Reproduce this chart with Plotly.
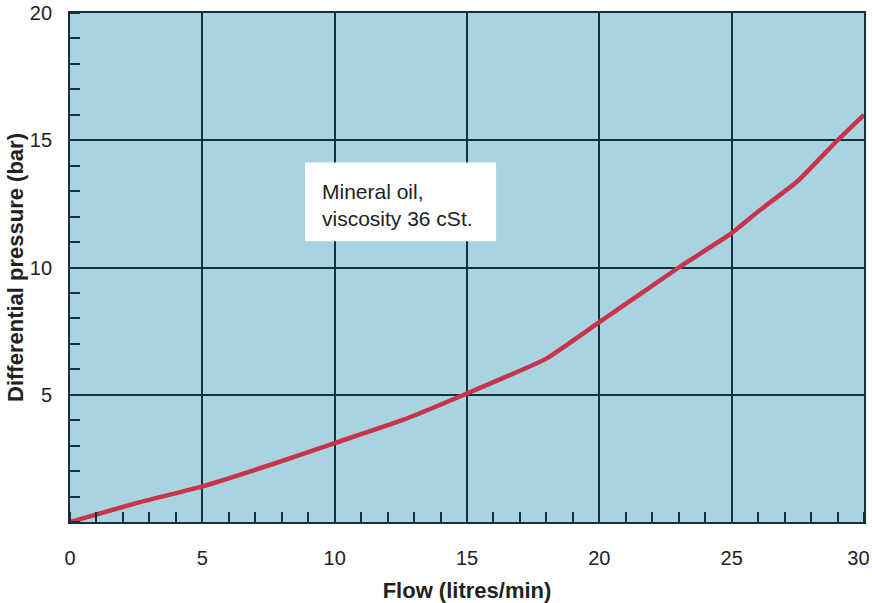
import plotly.graph_objects as go

flow = [0, 2.5, 5, 7.5, 10, 12.5, 15, 18, 20, 23, 25, 26, 27.5, 29, 30]
pressure = [0, 0.74, 1.4, 2.22, 3.1, 3.98, 5.05, 6.42, 7.85, 10.0, 11.35, 12.2, 13.4, 15.0, 16.0]
x_ticks = [0, 5, 10, 15, 20, 25, 30]
x_tick_text = ["0", "5", "10", "15", "20", "25", "30\u00a0\u00a0"]
y_ticks = [5, 10, 15, 20]
note_text = "Mineral oil,<br>viscosity 36 cSt."

grid_col = "#17303d"
font_fam = "Liberation Sans, Arial, sans-serif"

fig = go.Figure()
fig.add_trace(go.Scatter(x=flow, y=pressure, mode="lines",
                         line=dict(color="#c7344b", width=4.5, shape="spline", smoothing=0.4),
                         showlegend=False, hoverinfo="skip"))

fig.add_shape(type="rect", xref="x", yref="y", x0=8.88, x1=16.1, y0=11.03, y1=14.13,
              fillcolor="white", line=dict(width=0), layer="above")
fig.add_annotation(xref="x", yref="y", x=9.45, y=12.45, text=note_text, showarrow=False,
                   xanchor="left", yanchor="middle", align="left",
                   font=dict(family=font_fam, size=21, color="#222222"))

fig.update_layout(
    width=872, height=603,
    margin=dict(l=70, r=8, t=13, b=81),
    paper_bgcolor="white", plot_bgcolor="#a8d4e2",
    font=dict(family=font_fam, color="#222222"),
    xaxis=dict(range=[0, 30], tickvals=x_ticks, ticktext=x_tick_text, automargin=False,
               showgrid=True, gridcolor=grid_col, gridwidth=1.8,
               showline=True, linecolor=grid_col, linewidth=1.8, mirror=True, zeroline=False,
               ticks="", ticklabelstandoff=17, ticklabeloverflow="allow", tickfont=dict(size=20),
               minor=dict(dtick=1, ticks="inside", ticklen=10, tickcolor=grid_col, tickwidth=1.8, showgrid=False),
               title=dict(text="<b>Flow (litres/min)</b>", font=dict(size=22), standoff=18)),
    yaxis=dict(range=[0, 20], tickvals=y_ticks, automargin=False,
               showgrid=True, gridcolor=grid_col, gridwidth=1.8,
               showline=True, linecolor=grid_col, linewidth=1.8, mirror=True, zeroline=False,
               ticks="", ticklabelstandoff=12, ticklabeloverflow="allow", tickfont=dict(size=20),
               minor=dict(dtick=1, ticks="inside", ticklen=10, tickcolor=grid_col, tickwidth=1.8, showgrid=False),
               title=dict(text="<b>Differential pressure (bar)</b>", font=dict(size=22), standoff=0)),
)

fig.write_html("out.html", config={"displayModeBar": False},
               post_script="document.body.style.margin='0';document.body.style.overflow='hidden';")
